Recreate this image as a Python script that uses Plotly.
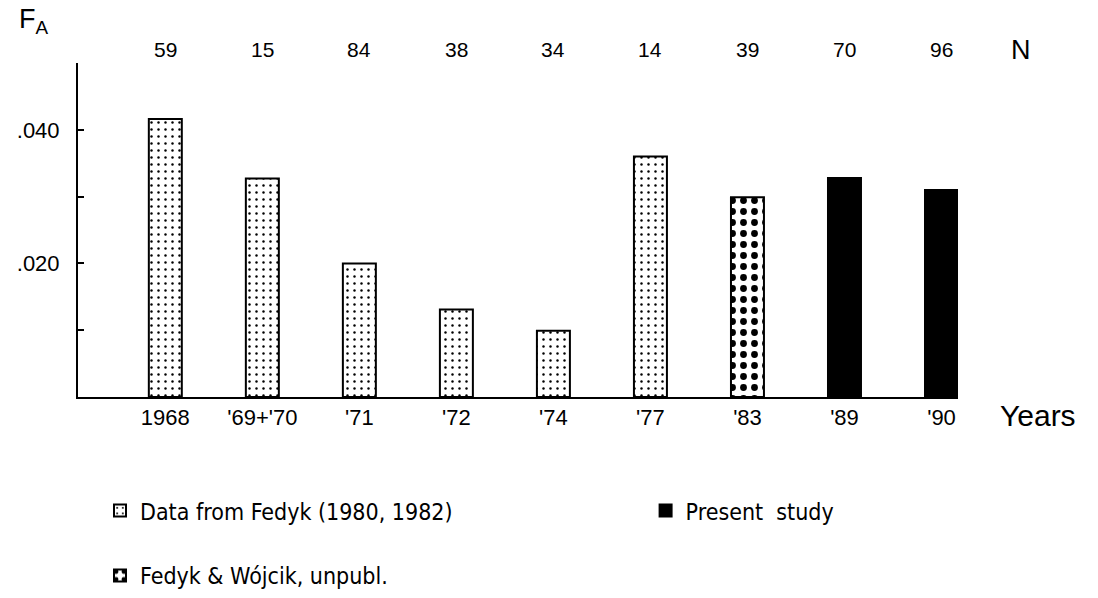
import plotly.graph_objects as go

# ---- data ----
years = ["1968", "'69+'70", "'71", "'72", "'74", "'77", "'83", "'89", "'90"]
fa_values = [0.0416, 0.0327, 0.0200, 0.0131, 0.0099, 0.0360, 0.0299, 0.0328, 0.0310]
n_values = [59, 15, 84, 38, 34, 14, 39, 70, 96]
sources = ["Fedyk", "Fedyk", "Fedyk", "Fedyk", "Fedyk", "Fedyk", "Wojcik", "Present", "Present"]
source_names = {
    "Fedyk": "Data from Fedyk (1980, 1982)",
    "Wojcik": "Fedyk & Wójcik, unpubl.",
    "Present": "Present  study",
}
ytick_vals = [0.01, 0.02, 0.03, 0.04, 0.05]
ytick_text = ["", ".020", "", ".040", ""]

FONT = "Liberation Sans, Arial, Helvetica, sans-serif"
NARROW = "Liberation Sans Narrow, Arial Narrow, DejaVu Sans Condensed, sans-serif"

styles = {
    "Fedyk": dict(color="white", pattern=dict(shape=".", size=7, solidity=0.1,
                                               fgcolor="black", bgcolor="white", fillmode="replace")),
    "Wojcik": dict(color="white", pattern=dict(shape=".", size=11, solidity=0.3,
                                                fgcolor="black", bgcolor="white", fillmode="replace")),
    "Present": dict(color="black"),
}
legend_of = {"Fedyk": "legend", "Wojcik": "legend", "Present": "legend2"}
rank_of = {"Fedyk": 1, "Wojcik": 2, "Present": 3}

fig = go.Figure()
for key in ["Fedyk", "Wojcik", "Present"]:
    xs = [y for y, s in zip(years, sources) if s == key]
    vs = [v for v, s in zip(fa_values, sources) if s == key]
    fig.add_trace(go.Bar(
        x=xs, y=vs, name=source_names[key], width=0.34,
        marker=dict(line=dict(color="black", width=2), **styles[key]),
        legend=legend_of[key], legendgroup=key, legendrank=rank_of[key],
    ))

# N labels above bars (category index positions)
for i, n in enumerate(n_values):
    fig.add_annotation(x=i, y=1.04, xref="x", yref="paper", text=str(n), showarrow=False,
                       xanchor="center", yanchor="middle",
                       font=dict(size=21, family=FONT, color="black"))
fig.add_annotation(x=1.072, y=1.04, xref="paper", yref="paper", text="N", showarrow=False,
                   xanchor="center", yanchor="middle",
                   font=dict(size=27, family=FONT, color="black"))
fig.add_annotation(x=1.045, y=-0.055, xref="paper", yref="paper", text="Years", showarrow=False,
                   xanchor="left", yanchor="middle",
                   font=dict(size=30, family=FONT, color="black"))
fig.add_annotation(x=-0.05, y=1.125, xref="paper", yref="paper", text="F<sub>A</sub>", showarrow=False,
                   xanchor="center", yanchor="middle",
                   font=dict(size=27, family=FONT, color="black"))

fig.update_layout(
    width=1098, height=598,
    margin=dict(l=78, r=140, t=63, b=201),
    plot_bgcolor="white", paper_bgcolor="white",
    barmode="overlay",
    font=dict(family=FONT, color="black"),
    xaxis=dict(type="category", range=[-0.9, 8.17], showline=True, linecolor="black", linewidth=2,
               ticks="", showgrid=False, tickfont=dict(size=22, family=FONT)),
    yaxis=dict(range=[0, 0.05], showline=True, linecolor="black", linewidth=2, showgrid=False,
               zeroline=False, ticks="inside", ticklen=6, tickwidth=2, tickcolor="black",
               ticklabelstandoff=12,
               tickvals=ytick_vals, ticktext=ytick_text, tickfont=dict(size=22, family=FONT)),
    legend=dict(x=0.025, y=0.182, yref="container", xanchor="left", yanchor="top", orientation="v",
                tracegroupgap=32, font=dict(size=23, family=NARROW), bgcolor="rgba(0,0,0,0)"),
    legend2=dict(x=0.645, y=0.182, yref="container", xanchor="left", yanchor="top", orientation="v",
                 font=dict(size=23, family=NARROW), bgcolor="rgba(0,0,0,0)"),
    showlegend=True,
)

fig.write_html("out.html", config={"displayModeBar": False},
               post_script="document.body.style.margin='0';")
